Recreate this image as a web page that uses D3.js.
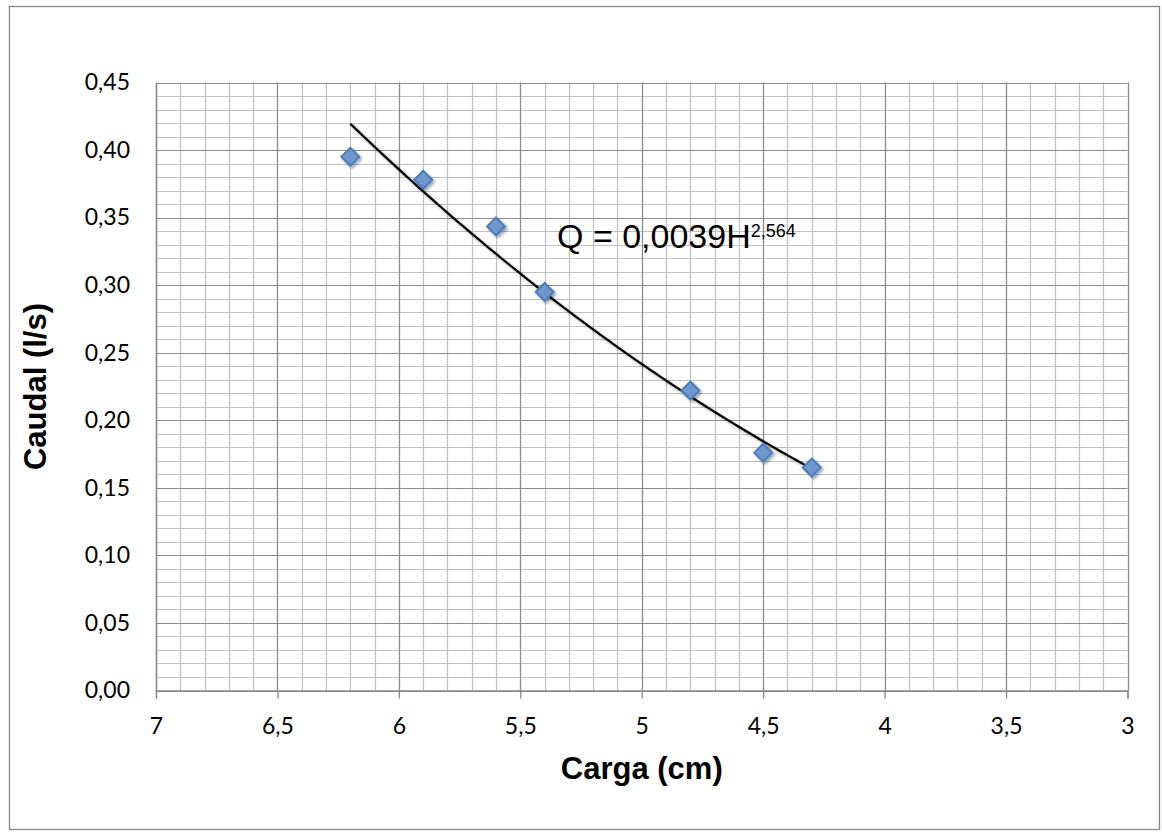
<!DOCTYPE html>
<html>
<head>
<meta charset="utf-8">
<script src="https://cdn.jsdelivr.net/npm/d3@7"></script>
<style>
  html, body { margin: 0; padding: 0; background: #fff; }
  svg { display: block; }
</style>
</head>
<body>
<svg id="chart" width="1162" height="832"></svg>
<script>
// Measured head (cm) and discharge (l/s)
const carga = [6.2, 5.9, 5.6, 5.4, 4.8, 4.5, 4.3];
const caudal = [0.395, 0.378, 0.3435, 0.295, 0.222, 0.176, 0.165];

// Power trendline Q = a·H^b
const trendCoef = [0.0039, 2.564];

const xTicks = [7, 6.5, 6, 5.5, 5, 4.5, 4, 3.5, 3];
const yTicks = [0, 0.05, 0.10, 0.15, 0.20, 0.25, 0.30, 0.35, 0.40, 0.45];

const m = { left: 156, top: 82.5, right: 1127.5, bottom: 690.5 };

const svg = d3.select("#chart");

const defs = svg.append("defs");
const sh = defs.append("filter").attr("id", "shadow")
  .attr("x", "-20%").attr("y", "-20%").attr("width", "140%").attr("height", "140%");
sh.append("feGaussianBlur").attr("in", "SourceAlpha").attr("stdDeviation", 1.6).attr("result", "b");
sh.append("feOffset").attr("in", "b").attr("dx", 1.5).attr("dy", 1.5).attr("result", "o");
sh.append("feComponentTransfer").attr("in", "o").attr("result", "o2")
  .append("feFuncA").attr("type", "linear").attr("slope", 0.35);
const mg = sh.append("feMerge");
mg.append("feMergeNode").attr("in", "o2");
mg.append("feMergeNode").attr("in", "SourceGraphic");

// chart border
svg.append("rect")
  .attr("x", 9.5).attr("y", 6.5).attr("width", 1150).attr("height", 823)
  .attr("fill", "#fff").attr("stroke", "#868686").attr("stroke-width", 1.3);

const x = d3.scaleLinear().domain([7, 3]).range([m.left, m.right]);
const y = d3.scaleLinear().domain([0, 0.45]).range([m.bottom, m.top]);

const fmt = v => d3.format(".2f")(v).replace(".", ",");
const fmtX = v => String(v).replace(".", ",");

// minor grid
const grid = svg.append("g");
const xMinor = d3.range(0, 41).map(i => 7 - i * 0.1);
const yMinor = d3.range(0, 46).map(i => i * 0.01);
grid.selectAll(".xm").data(xMinor).join("line")
  .attr("x1", d => Math.round(x(d)) + 0.5).attr("x2", d => Math.round(x(d)) + 0.5)
  .attr("y1", m.top).attr("y2", m.bottom)
  .attr("stroke", "#c0c0c0").attr("stroke-width", 1.2);
grid.selectAll(".ym").data(yMinor).join("line")
  .attr("y1", d => Math.round(y(d)) + 0.5).attr("y2", d => Math.round(y(d)) + 0.5)
  .attr("x1", m.left).attr("x2", m.right)
  .attr("stroke", "#c0c0c0").attr("stroke-width", 1.2);
// major grid
grid.selectAll(".xM").data(xTicks).join("line")
  .attr("x1", d => Math.round(x(d)) + 0.5).attr("x2", d => Math.round(x(d)) + 0.5)
  .attr("y1", m.top).attr("y2", m.bottom)
  .attr("stroke", "#8c8c8c").attr("stroke-width", 1.2);
grid.selectAll(".yM").data(yTicks).join("line")
  .attr("y1", d => Math.round(y(d)) + 0.5).attr("y2", d => Math.round(y(d)) + 0.5)
  .attr("x1", m.left).attr("x2", m.right)
  .attr("stroke", "#8c8c8c").attr("stroke-width", 1.2);

// axes
const xAxis = svg.append("g")
  .attr("transform", `translate(0,${m.bottom})`)
  .call(d3.axisBottom(x).tickValues(xTicks).tickFormat(fmtX).tickSizeOuter(0).tickSize(8));
xAxis.attr("font-size", null).attr("font-family", null);
xAxis.select(".domain").attr("stroke", "#868686").attr("stroke-width", 1.3);
xAxis.selectAll(".tick line").attr("stroke", "#868686").attr("stroke-width", 1.3);
xAxis.selectAll("text")
  .style("font-family", "Lato, 'Open Sans', sans-serif")
  .style("font-size", "23px").attr("fill", "#000")
  .attr("y", 43).attr("dy", 0);

const yAxis = svg.append("g")
  .attr("transform", `translate(${m.left},0)`)
  .call(d3.axisLeft(y).tickValues(yTicks).tickFormat(fmt).tickSizeOuter(0).tickSize(0).tickPadding(26));
yAxis.attr("font-size", null).attr("font-family", null);
yAxis.select(".domain").attr("stroke", "#868686").attr("stroke-width", 1.3);
yAxis.selectAll("text")
  .style("font-family", "Lato, 'Open Sans', sans-serif")
  .style("font-size", "23px").attr("fill", "#000");

// trendline
const hMin = d3.min(carga), hMax = d3.max(carga);
const hs = d3.range(0, 101).map(i => hMin + (hMax - hMin) * i / 100);
const line = d3.line().x(d => x(d)).y(d => y(trendCoef[0] * Math.pow(d, trendCoef[1])));
svg.append("path").datum(hs)
  .attr("d", line).attr("fill", "none")
  .attr("stroke", "#000").attr("stroke-width", 2.2)
  .attr("filter", "url(#shadow)");

// markers
const diamond = (cx, cy, r) => `M${cx},${cy - r}L${cx + r},${cy}L${cx},${cy + r}L${cx - r},${cy}Z`;
svg.append("g").selectAll("path").data(carga).join("path")
  .attr("d", (d, i) => diamond(x(d), y(caudal[i]), 9))
  .attr("fill", "#6f97cd").attr("stroke", "#4a7ebb").attr("stroke-width", 2)
  .attr("filter", "url(#shadow)");

// trendline equation
const eq = svg.append("text")
  .attr("x", 557).attr("y", 248)
  .attr("font-family", "'Liberation Sans', Arial, sans-serif")
  .attr("font-size", 34).attr("fill", "#000");
eq.append("tspan").text("Q = " + String(trendCoef[0]).replace(".", ",") + "H");
eq.append("tspan").attr("dy", -11).attr("font-size", 18)
  .text(String(trendCoef[1]).replace(".", ","));

// axis titles
svg.append("text")
  .attr("x", (m.left + m.right) / 2).attr("y", 779)
  .attr("text-anchor", "middle")
  .attr("font-family", "'Liberation Sans', Arial, sans-serif")
  .attr("font-weight", "bold").attr("font-size", 31)
  .text("Carga (cm)");

svg.append("text")
  .attr("transform", `translate(46,${(m.top + m.bottom) / 2}) rotate(-90)`)
  .attr("text-anchor", "middle")
  .attr("font-family", "'Liberation Sans', Arial, sans-serif")
  .attr("font-weight", "bold").attr("font-size", 31)
  .text("Caudal (l/s)");
</script>
</body>
</html>
